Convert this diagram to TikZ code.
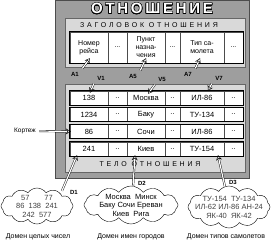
\documentclass[tikz,border=0pt]{standalone}
\usepackage{fontspec}
\setmainfont{Liberation Sans}
\usepackage{contour}
\usetikzlibrary{arrows.meta,positioning,calc,shapes.symbols}
\contourlength{0.5pt}
\newcommand{\gapmark}{...}

\begin{document}
\begin{tikzpicture}[x=1pt,y=-1pt,every node/.style={font=\fontsize{6.5}{7}\selectfont},
  cell/.style={draw=black!70,fill=white,inner sep=0pt,align=center,minimum height=14pt,
    font=\fontsize{7.5}{8}\selectfont},
  fat/.style={draw,double=white,double distance=1.2pt,-{Stealth[open,length=5pt,width=6pt]}},
  dom/.style={cloud,cloud puffs=12,cloud puff arc=110,cloud ignores aspect,draw,fill=white,
    align=center,inner sep=-20pt,font=\fontsize{7.5}{8.5}\selectfont},
  lbl/.style={font=\fontsize{6}{7}\selectfont\bfseries},
  spaced/.style={font=\fontsize{7}{8}\selectfont\addfontfeature{LetterSpace=40}}]
\useasboundingbox (0,0) rectangle (271,244);
\draw[black!70,fill=black!38,line width=1pt] (55,0) rectangle (249,178);
\node (title) at (152,9) {\fontsize{15}{15}\selectfont\bfseries\addfontfeature{LetterSpace=18}\color{white}\contour{black}{ОТНОШЕНИЕ}};
\draw[black!60,fill=black!15] (65,18) rectangle (245,67);
\node[spaced] (head) at (149,25) {ЗАГОЛОВОК ОТНОШЕНИЯ};
\foreach \c/\x/\w/\t in {1/89/38/{Номер\\рейса},2/117.5/19/\gapmark,3/146/38/{Пункт\\назна-\\чения},4/172.5/15/\gapmark,5/202/44/{Тип са-\\молета},6/233.5/19/\gapmark}
  \node[cell,minimum width=\w pt,minimum height=31pt,font=\fontsize{7}{8}\selectfont] (h\c) at (\x,47.5) {\t};
\draw[thick] (h1.north west) rectangle (h6.south east);
\draw[black!60,fill=black!15] (65,84) rectangle (245,172);
\node[spaced] (body) at (150,164) {ТЕЛО ОТНОШЕНИЯ};
\foreach \r/\y/\n/\g/\p in {1/98/138/Москва/ИЛ-86,2/114.5/1234/Баку/ТУ-134,3/131.5/86/Сочи/ИЛ-86,4/149/241/Киев/ТУ-154}{
  \node[cell,minimum width=38pt] (r\r1) at (89,\y) {\n};
  \node[cell,minimum width=19pt] (r\r2) at (117.5,\y) {..};
  \node[cell,minimum width=38pt] (r\r3) at (146,\y) {\g};
  \node[cell,minimum width=15pt] (r\r4) at (172.5,\y) {..};
  \node[cell,minimum width=44pt] (r\r5) at (202,\y) {\p};
  \node[cell,minimum width=19pt] (r\r6) at (233.5,\y) {..};
  \draw[thick] (r\r1.north west) rectangle (r\r6.south east);
}
\node[lbl] (a1) at (75,74) {A1};
\node[lbl] (a5) at (133,76) {A5};
\node[lbl] (a7) at (188,74) {A7};
\node[lbl] (v1) at (101,78) {V1};
\node[lbl] (v5) at (162,79) {V5};
\node[lbl] (v7) at (219,78) {V7};
\draw[fat] (a1.north east) -- ($(h1.south)+(1,-5)$);
\draw[fat] (a5.north east) -- ($(h3.south)+(0,-5)$);
\draw[fat] (a7.north east) -- ($(h5.south)+(-2,-5)$);
\draw[fat] (v1.south west) -- ($(r11.north)+(1,2)$);
\draw[fat] (v5.south west) -- ($(r13.north)+(2,3)$);
\draw[fat] (v7.south west) -- ($(r15.north)+(6,0)$);
\node (tuple) at (25,131) {Кортеж};
\draw[fat] (tuple.east) -- ($(r31.west)+(1,0)$);
\node[dom,minimum width=72pt,minimum height=36pt,text=black!75] (dom1) at (37,206) {57\qquad 77\\86\ \ 138\ \ 241\\242\ \ 577};
\node[dom,minimum width=94pt,minimum height=38pt] (dom2) at (131,205) {Москва\ \ Минск\\Баку\ Сочи\ Ереван\\Киев\ \ Рига};
\node[dom,minimum width=82pt,minimum height=42pt,text=black!75] (dom3) at (229,207) {ТУ-154\ \ ТУ-134\\ИЛ-62\ ИЛ-86\ АН-24\\ЯК-40\ \ ЯК-42};
\node[lbl] (d1) at (74,192) {D1};
\node[lbl] (d2) at (142,183) {D2};
\node[lbl] (d3) at (233,182) {D3};
\draw[fat] ($(dom1.north)+(25,3)$) -- ($(r41.south)+(-12,-1)$);
\draw[fat] ($(dom2.north)+(2,1)$) -- ($(r43.south)+(-11,-1)$);
\draw[fat] ($(dom3.north)+(-4,1)$) -- ($(r45.south)+(16,-1)$);
\node[font=\fontsize{7}{8}\selectfont] (cap1) at (38,237) {Домен целых чисел};
\node[font=\fontsize{7}{8}\selectfont] (cap2) at (131,237) {Домен имен городов};
\node[font=\fontsize{7}{8}\selectfont] (cap3) at (226,237) {Домен типов самолетов};
\end{tikzpicture}
\end{document}
